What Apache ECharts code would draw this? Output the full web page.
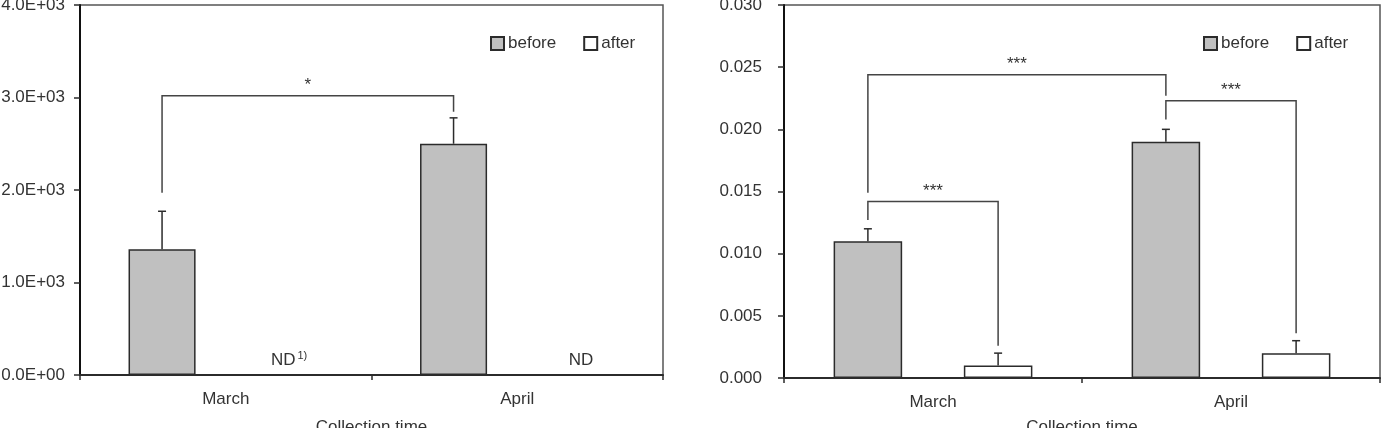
<!DOCTYPE html>
<html>
<head>
<meta charset="utf-8">
<script src="https://cdn.jsdelivr.net/npm/echarts@6/dist/echarts.min.js"></script>
<style>
  html, body { margin: 0; padding: 0; background: #fff; }
  #chart { width: 1395px; height: 428px; }
</style>
</head>
<body>
<div id="chart"></div>
<script>
// categories
const categories = ['March', 'April'];

// left panel (ND = not detected for "after")
const beforeLeft = [1360, 2500];
const beforeLeftErr = [410, 280];
const afterLeft = [null, null];
const ndNotes = ['1)', ''];
const yTicksLeft = ['0.0E+00', '1.0E+03', '2.0E+03', '3.0E+03', '4.0E+03'];

// right panel
const beforeRight = [0.011, 0.019];
const beforeRightErr = [0.001, 0.001];
const afterRight = [0.001, 0.002];
const afterRightErr = [0.001, 0.001];
const yTicksRight = ['0.000', '0.005', '0.010', '0.015', '0.020', '0.025', '0.030'];

// significance brackets: [fromCat, fromSide, fromLegEnd, toCat, toSide, toLegEnd, top]
// side -1 = before bar, +1 = after bar
const bracketsLeft = [[0, -1, 1970, 1, -1, 2845, 3020]];
const bracketsLeftLabels = ['*'];
const bracketsRight = [
  [0, -1, 0.0149, 1, -1, 0.0227, 0.0244],
  [0, -1, 0.0127, 0, 1, 0.0026, 0.0142],
  [1, -1, 0.0208, 1, 1, 0.0036, 0.0223]
];
const bracketsRightLabels = ['***', '***', '***'];

const FONT = "'Liberation Sans', Arial, sans-serif";
const TEXT = '#333';
const LINE = '#2b2b2b';
const BAR_WIDTH = 0.23;   // share of the category band
const BAR_GAP = 0.9;      // share of bar width
const BAR_SHIFT = BAR_WIDTH * (1 + BAR_GAP) / 2;

const chart = echarts.init(document.getElementById('chart'));

function barX(api, cat, side) {
  const band = api.size([1, 0])[0];
  return api.coord([cat, 0])[0] + side * band * BAR_SHIFT;
}

function renderError(params, api) {
  const cat = api.value(0), val = api.value(1), err = api.value(2), side = api.value(3);
  const x = barX(api, cat, side);
  const y0 = api.coord([cat, val])[1];
  const y1 = api.coord([cat, val + err])[1];
  const style = { stroke: LINE, lineWidth: 1.5 };
  return {
    type: 'group',
    children: [
      { type: 'line', shape: { x1: x, y1: y0, x2: x, y2: y1 }, style: style },
      { type: 'line', shape: { x1: x - 4, y1: y1, x2: x + 4, y2: y1 }, style: style }
    ]
  };
}

function makeBracketRender(labels) {
  return function (params, api) {
    const x1 = barX(api, api.value(0), api.value(1));
    const x2 = barX(api, api.value(3), api.value(4));
    const yA = api.coord([0, api.value(2)])[1];
    const yB = api.coord([0, api.value(5)])[1];
    const yT = api.coord([0, api.value(6)])[1];
    return {
      type: 'group',
      children: [
        {
          type: 'polyline',
          shape: { points: [[x1, yA], [x1, yT], [x2, yT], [x2, yB]] },
          style: { stroke: '#444', lineWidth: 1.5, fill: null }
        },
        {
          type: 'text',
          style: {
            x: (x1 + x2) / 2, y: yT - 10, text: labels[params.dataIndex],
            align: 'center', verticalAlign: 'middle',
            font: '17px ' + FONT, fill: TEXT
          }
        }
      ]
    };
  };
}

function renderND(params, api) {
  const cat = api.value(0);
  const x = barX(api, cat, 1);
  const y = api.coord([cat, 0])[1] - 6;
  const note = ndNotes[params.dataIndex];
  const children = [{
    type: 'text',
    style: {
      x: note ? x + 6 : x, y: y, text: 'ND',
      align: note ? 'right' : 'center', verticalAlign: 'bottom',
      font: '17px ' + FONT, fill: TEXT
    }
  }];
  if (note) {
    children.push({
      type: 'text',
      style: {
        x: x + 8, y: y - 19, text: note,
        align: 'left', verticalAlign: 'top',
        font: '11px ' + FONT, fill: TEXT
      }
    });
  }
  return { type: 'group', children: children };
}

function xAxisFor(gridIndex, nameGap) {
  return {
    type: 'category', gridIndex: gridIndex, data: categories,
    name: 'Collection time', nameLocation: 'middle', nameGap: nameGap,
    nameTextStyle: { fontSize: 17, fontFamily: FONT, color: TEXT },
    axisLine: { lineStyle: { color: LINE, width: 2 } },
    axisTick: { show: true, length: 5, lineStyle: { color: LINE, width: 1.5 } },
    axisLabel: { fontSize: 17, fontFamily: FONT, color: TEXT, margin: 16 },
    splitLine: { show: false }
  };
}

function yAxisFor(gridIndex, max, interval, ticks, margin) {
  return {
    type: 'value', gridIndex: gridIndex, min: 0, max: max, interval: interval,
    axisLine: { show: true, lineStyle: { color: '#111', width: 2 } },
    axisTick: { show: true, length: 6, lineStyle: { color: LINE, width: 1.5 } },
    axisLabel: {
      fontSize: 17, fontFamily: FONT, color: TEXT, margin: margin,
      formatter: function (v) { return ticks[Math.round(v / interval)]; }
    },
    splitLine: { show: false }
  };
}

const barBefore = { color: '#c0c0c0', borderColor: LINE, borderWidth: 1.5 };
const barAfter = { color: '#ffffff', borderColor: LINE, borderWidth: 1.5 };

const legendBase = {
  icon: 'rect', itemWidth: 13, itemHeight: 13, itemGap: 27, top: 30,
  data: ['before', 'after'],
  textStyle: { fontSize: 17, fontFamily: FONT, color: TEXT, padding: [0, 0, 0, -1] }
};

const gridBase = {
  show: true, borderColor: '#555', borderWidth: 1.5,
  containLabel: false, outerBoundsMode: 'none'
};

const option = {
  animation: false,
  backgroundColor: '#fff',
  grid: [
    Object.assign({}, gridBase, { left: 80, top: 5, width: 583, height: 370 }),
    Object.assign({}, gridBase, { left: 784, top: 5, width: 596, height: 373 })
  ],
  legend: [
    Object.assign({}, legendBase, { left: 485 }),
    Object.assign({}, legendBase, { left: 1198 })
  ],
  xAxis: [xAxisFor(0, 44), xAxisFor(1, 41)],
  yAxis: [
    yAxisFor(0, 4000, 1000, yTicksLeft, 15),
    yAxisFor(1, 0.03, 0.005, yTicksRight, 22)
  ],
  series: [
    {
      name: 'before', type: 'bar', xAxisIndex: 0, yAxisIndex: 0,
      barWidth: (BAR_WIDTH * 100) + '%', barGap: (BAR_GAP * 100) + '%',
      data: beforeLeft, itemStyle: barBefore
    },
    {
      name: 'after', type: 'bar', xAxisIndex: 0, yAxisIndex: 0,
      barWidth: (BAR_WIDTH * 100) + '%', barGap: (BAR_GAP * 100) + '%',
      data: afterLeft.map(v => v === null ? '-' : v), itemStyle: barAfter
    },
    {
      name: 'before', type: 'bar', xAxisIndex: 1, yAxisIndex: 1,
      barWidth: (BAR_WIDTH * 100) + '%', barGap: (BAR_GAP * 100) + '%',
      data: beforeRight, itemStyle: barBefore
    },
    {
      name: 'after', type: 'bar', xAxisIndex: 1, yAxisIndex: 1,
      barWidth: (BAR_WIDTH * 100) + '%', barGap: (BAR_GAP * 100) + '%',
      data: afterRight, itemStyle: barAfter
    },
    {
      type: 'custom', xAxisIndex: 0, yAxisIndex: 0, z: 3, renderItem: renderError,
      encode: { x: 0, y: 1 },
      data: categories.map((c, i) => [i, beforeLeft[i], beforeLeftErr[i], -1])
    },
    {
      type: 'custom', xAxisIndex: 1, yAxisIndex: 1, z: 3, renderItem: renderError,
      encode: { x: 0, y: 1 },
      data: categories.map((c, i) => [i, beforeRight[i], beforeRightErr[i], -1])
        .concat(categories.map((c, i) => [i, afterRight[i], afterRightErr[i], 1]))
    },
    {
      type: 'custom', xAxisIndex: 0, yAxisIndex: 0, z: 3, renderItem: renderND,
      encode: { x: 0, y: 1 },
      data: categories.map((c, i) => [i, 0])
    },
    {
      type: 'custom', xAxisIndex: 0, yAxisIndex: 0, z: 4,
      renderItem: makeBracketRender(bracketsLeftLabels),
      encode: { x: 0, y: 6 }, data: bracketsLeft
    },
    {
      type: 'custom', xAxisIndex: 1, yAxisIndex: 1, z: 4,
      renderItem: makeBracketRender(bracketsRightLabels),
      encode: { x: 0, y: 6 }, data: bracketsRight
    }
  ]
};

chart.setOption(option);
</script>
</body>
</html>
